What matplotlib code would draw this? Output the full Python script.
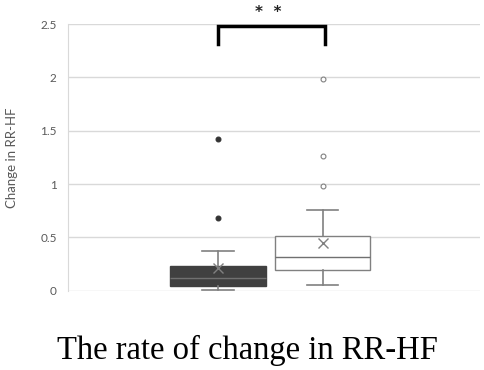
import matplotlib
matplotlib.use('Agg')
import matplotlib.pyplot as plt

# 箱ひげ図の統計量
groups = ['A', 'B']
whislo = [0.01, 0.05]
q1 = [0.047, 0.194]
med = [0.116, 0.319]
q3 = [0.234, 0.513]
whishi = [0.369, 0.756]
means = [0.21, 0.444]
fliers = [[0.678, 1.425], [0.978, 1.26, 1.987]]

yticks = [0, 0.5, 1, 1.5, 2, 2.5]
ytick_labels = ['0', '0.5', '1', '1.5', '2', '2.5']

fig = plt.figure(figsize=(4.84, 3.70), dpi=100)
ax = fig.add_axes([0.14, 0.2143, 0.852, 0.7208])

stats = []
for i in range(len(groups)):
    stats.append(dict(label=groups[i], whislo=whislo[i], q1=q1[i], med=med[i],
                      q3=q3[i], whishi=whishi[i], mean=means[i], fliers=fliers[i]))

box_faces = ['#404040', 'white']
box_edges = ['#404040', '#808080']
flier_faces = ['#333333', 'white']
flier_edges = ['#333333', '#808080']

for i, s in enumerate(stats):
    ax.bxp([s], positions=[i + 1], widths=0.91, patch_artist=True,
           showmeans=True, capwidths=0.3,
           boxprops=dict(facecolor=box_faces[i], edgecolor=box_edges[i], linewidth=1.0),
           medianprops=dict(color='#707070', linewidth=1.0),
           whiskerprops=dict(color='#808080', linewidth=1.2),
           capprops=dict(color='#808080', linewidth=1.2),
           meanprops=dict(marker='x', markeredgecolor='#808080', markersize=7, markeredgewidth=1.0),
           flierprops=dict(marker='o', markerfacecolor=flier_faces[i],
                           markeredgecolor=flier_edges[i], markersize=3.5, markeredgewidth=0.8))

ax.set_xlim(-0.43, 3.5)
ax.set_ylim(0, 2.5)
ax.set_yticks(yticks)
ax.set_yticklabels(ytick_labels)
ax.set_xticks([])
ax.grid(axis='y', color='#d9d9d9', linewidth=1.0)
ax.set_axisbelow(True)
for side in ['top', 'right', 'bottom']:
    ax.spines[side].set_visible(False)
ax.spines['left'].set_color('#d9d9d9')
ax.tick_params(axis='y', length=0, pad=8, labelsize=8.5, labelcolor='#595959')
for lab in ax.get_yticklabels():
    lab.set_family('Lato')
ax.set_ylabel('Change in RR-HF', family='Lato', fontsize=9.5, color='#595959', labelpad=16)

# 有意差の括弧
ax.plot([1, 1, 2.02, 2.02], [2.31, 2.48, 2.48, 2.31], color='black', linewidth=2.5,
        solid_joinstyle='miter', clip_on=False)
fig.text(0.554, 0.966, '*  *', ha='center', va='center', fontsize=11, fontweight='bold',
         color='#222222')

fig.text(0.511, 0.03, 'The rate of change in RR-HF', ha='center', va='baseline',
         family='Liberation Serif', fontsize=23.5)

fig.savefig('out.png', dpi=100)
